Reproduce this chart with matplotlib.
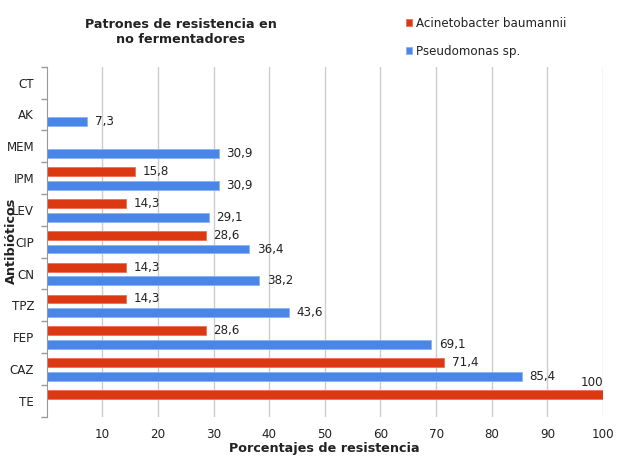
import matplotlib
matplotlib.use("Agg")
import matplotlib.pyplot as plt
import numpy as np

categories = ["CT", "AK", "MEM", "IPM", "LEV", "CIP", "CN", "TPZ", "FEP", "CAZ", "TE"]
acinetobacter = [0, 0, 0, 15.8, 14.3, 28.6, 14.3, 14.3, 28.6, 71.4, 100]
pseudomonas = [0, 7.3, 30.9, 30.9, 29.1, 36.4, 38.2, 43.6, 69.1, 85.4, 0]
series_names = ["Acinetobacter baumannii", "Pseudomonas sp."]
xticks = [10, 20, 30, 40, 50, 60, 70, 80, 90, 100]

RED = "#DC3912"
BLUE = "#4A86E8"
TXT = "#222222"

plt.rcParams['font.family'] = ['DejaVu Sans']
fig = plt.figure(figsize=(6.24, 4.58), dpi=100)
ax = fig.add_axes([0.0748, 0.0902, 0.8915, 0.7642])

y = np.arange(len(categories))
h = 0.28
rb = ax.barh(y - 0.2, acinetobacter, height=h, color=RED, edgecolor="#E8705A", linewidth=0.6, zorder=3)
bb = ax.barh(y + 0.23, pseudomonas, height=h, color=BLUE, edgecolor="#8AB2F2", linewidth=0.6, zorder=3)

fs = 8.6
def fmt(v):
    return ("%g" % v).replace(".", ",")

for yi, v in zip(y - 0.2, acinetobacter):
    if v <= 0:
        continue
    if v >= 100:
        ax.annotate(fmt(v), (v, yi), xytext=(0, 4), textcoords="offset points",
                    ha="right", va="bottom", fontsize=fs, color=TXT, annotation_clip=False)
    else:
        ax.annotate(fmt(v), (v, yi), xytext=(5.5, 0), textcoords="offset points",
                    ha="left", va="center", fontsize=fs, color=TXT)
for yi, v in zip(y + 0.23, pseudomonas):
    if v <= 0:
        continue
    ax.annotate(fmt(v), (v, yi), xytext=(5.5, 0), textcoords="offset points",
                ha="left", va="center", fontsize=fs, color=TXT)

ax.set_xlim(0, 100)
ax.set_ylim(len(categories) - 0.5, -0.5)
ax.set_xticks(xticks)
ax.set_xticklabels([str(t) for t in xticks], fontsize=fs, color=TXT)
ax.set_yticks(y)
ax.set_yticklabels(categories, fontsize=fs, color=TXT)
ax.set_yticks(np.arange(-0.5, len(categories), 1.0), minor=True)
ax.tick_params(axis="y", which="major", length=0, pad=9)
ax.tick_params(axis="y", which="minor", length=4, color="#999999", width=1)
ax.tick_params(axis="x", length=0, pad=8)
ax.grid(axis="x", color="#CCCCCC", linewidth=1, zorder=0)
for s in ["top", "right", "bottom"]:
    ax.spines[s].set_visible(False)
ax.spines["left"].set_color("#999999")
ax.spines["left"].set_zorder(4)

fig.text(0.29, 0.93, "Patrones de resistencia en\nno fermentadores", ha="center", va="center",
         fontsize=9.2, fontweight="bold", color=TXT, linespacing=1.25)
fig.text(0.52, 0.02, "Porcentajes de resistencia", ha="center", va="center",
         fontsize=9.2, fontweight="bold", color=TXT)
fig.text(0.019, 0.474, "Antibióticos", ha="center", va="center", rotation=90,
         fontsize=9.2, fontweight="bold", color=TXT)

leg = fig.legend([rb, bb], series_names, loc="upper left", bbox_to_anchor=(0.65, 0.963),
                 frameon=False, fontsize=fs, handlelength=0.55, handleheight=0.55,
                 handletextpad=0.3, labelspacing=1.25, borderpad=0, borderaxespad=0)
for t in leg.get_texts():
    t.set_color(TXT)

fig.savefig("out.png", dpi=100)
